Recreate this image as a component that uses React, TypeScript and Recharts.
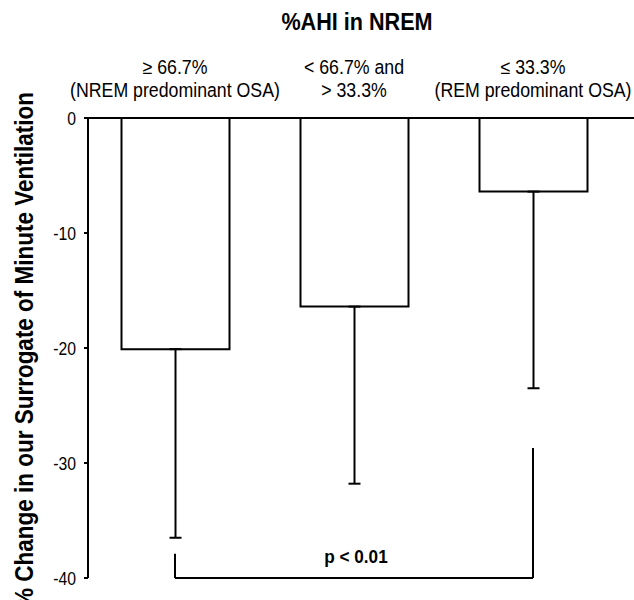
import { BarChart, Bar, XAxis, YAxis, ErrorBar, ReferenceLine, Label } from 'recharts';

const FONT = "'Liberation Sans', Arial, sans-serif";

// group labels (two lines each)
const GROUPS = ['≥ 66.7%', '< 66.7% and', '≤ 33.3%'];
const GROUP_SUBLABELS = ['(NREM predominant OSA)', '> 33.3%', '(REM predominant OSA)'];

// mean % change and lower error (SD)
const MEAN_CHANGE = [-20.1, -16.4, -6.4];
const ERR_LOWER = [16.4, 15.4, 17.1];

const Y_TICKS = [0, -10, -20, -30, -40];

// significance bracket between group 1 and group 3
const BRACKET_LEFT_TOP = -37.9;
const BRACKET_RIGHT_TOP = -28.7;
const BRACKET_BOTTOM = -40;
const P_TEXT = 'p < 0.01';

const chartData = GROUPS.map((g, i) => ({
  group: g,
  change: MEAN_CHANGE[i],
  err: [ERR_LOWER[i], 0]
}));

// no narrow font installed, so squeeze Liberation Sans horizontally
function NarrowText({ x, y, anchor = 'middle', size, bold = false, rotate = 0, squeeze = 0.9, children }: any) {
  return (
    <text
      transform={`translate(${x},${y}) rotate(${rotate}) scale(${squeeze},1)`}
      textAnchor={anchor}
      fontFamily={FONT}
      fontSize={size}
      fontWeight={bold ? 'bold' : 'normal'}
      fill="#000"
    >
      {children}
    </text>
  );
}

function GroupTick({ x, y, payload }: any) {
  const i = GROUPS.indexOf(payload.value);
  return (
    <NarrowText x={x} y={y} size={19.5} squeeze={0.91}>
      <tspan x={0} dy={-23}>{payload.value}</tspan>
      <tspan x={0} dy={23}>{GROUP_SUBLABELS[i]}</tspan>
    </NarrowText>
  );
}

function ValueTick({ x, y, payload }: any) {
  return (
    <NarrowText x={x} y={y + 6.5} anchor="end" size={17.5} squeeze={0.9}>
      {payload.value}
    </NarrowText>
  );
}

function Title({ viewBox }: any) {
  return (
    <NarrowText x={viewBox.x + viewBox.width / 2 - 4} y={30} size={23.5} squeeze={0.92} bold>
      %AHI in NREM
    </NarrowText>
  );
}

function YTitle({ viewBox }: any) {
  const cy = viewBox.y + viewBox.height / 2 + 2;
  return (
    <NarrowText x={viewBox.x + 33} y={cy} rotate={-90} size={25} squeeze={0.9} bold>
      % Change in our Surrogate of Minute Ventilation
    </NarrowText>
  );
}

function PLabel({ viewBox }: any) {
  return (
    <NarrowText x={viewBox.x + viewBox.width / 2 + 2} y={viewBox.y - 15} size={17.5} squeeze={0.98} bold>
      {P_TEXT}
    </NarrowText>
  );
}

export default function App() {
  return (
    <div style={{ position: 'absolute', left: 0, top: 0, background: '#fff' }}>
      <BarChart
        width={634}
        height={600}
        data={chartData}
        margin={{ top: 0, right: 0, bottom: 22, left: 0 }}
      >
        <XAxis
          dataKey="group"
          orientation="top"
          height={118}
          interval={0}
          padding={{ left: -2.5, right: 11.5 }}
          axisLine={{ stroke: '#000', strokeWidth: 2 }}
          tickLine={false}
          tickSize={0}
          tickMargin={21}
          tick={<GroupTick />}
        >
          <Label content={<Title />} />
        </XAxis>
        <YAxis
          domain={[-40, 0]}
          ticks={Y_TICKS}
          width={88}
          tickSize={4}
          tickMargin={8}
          axisLine={{ stroke: '#000', strokeWidth: 2 }}
          tickLine={{ stroke: '#000', strokeWidth: 2 }}
          tick={<ValueTick />}
          allowDataOverflow
        >
          <Label content={<YTitle />} />
        </YAxis>
        <Bar
          dataKey="change"
          fill="#fff"
          stroke="#000"
          strokeWidth={2}
          barSize={108}
          isAnimationActive={false}
        >
          <ErrorBar dataKey="err" direction="y" width={6} stroke="#000" strokeWidth={2} />
        </Bar>
        <ReferenceLine
          segment={[{ x: GROUPS[0], y: BRACKET_LEFT_TOP }, { x: GROUPS[0], y: BRACKET_BOTTOM }]}
          stroke="#000"
          strokeWidth={2}
        />
        <ReferenceLine
          segment={[{ x: GROUPS[0], y: BRACKET_BOTTOM }, { x: GROUPS[2], y: BRACKET_BOTTOM }]}
          stroke="#000"
          strokeWidth={2}
        >
          <Label content={<PLabel />} />
        </ReferenceLine>
        <ReferenceLine
          segment={[{ x: GROUPS[2], y: BRACKET_RIGHT_TOP }, { x: GROUPS[2], y: BRACKET_BOTTOM }]}
          stroke="#000"
          strokeWidth={2}
        />
      </BarChart>
    </div>
  );
}
